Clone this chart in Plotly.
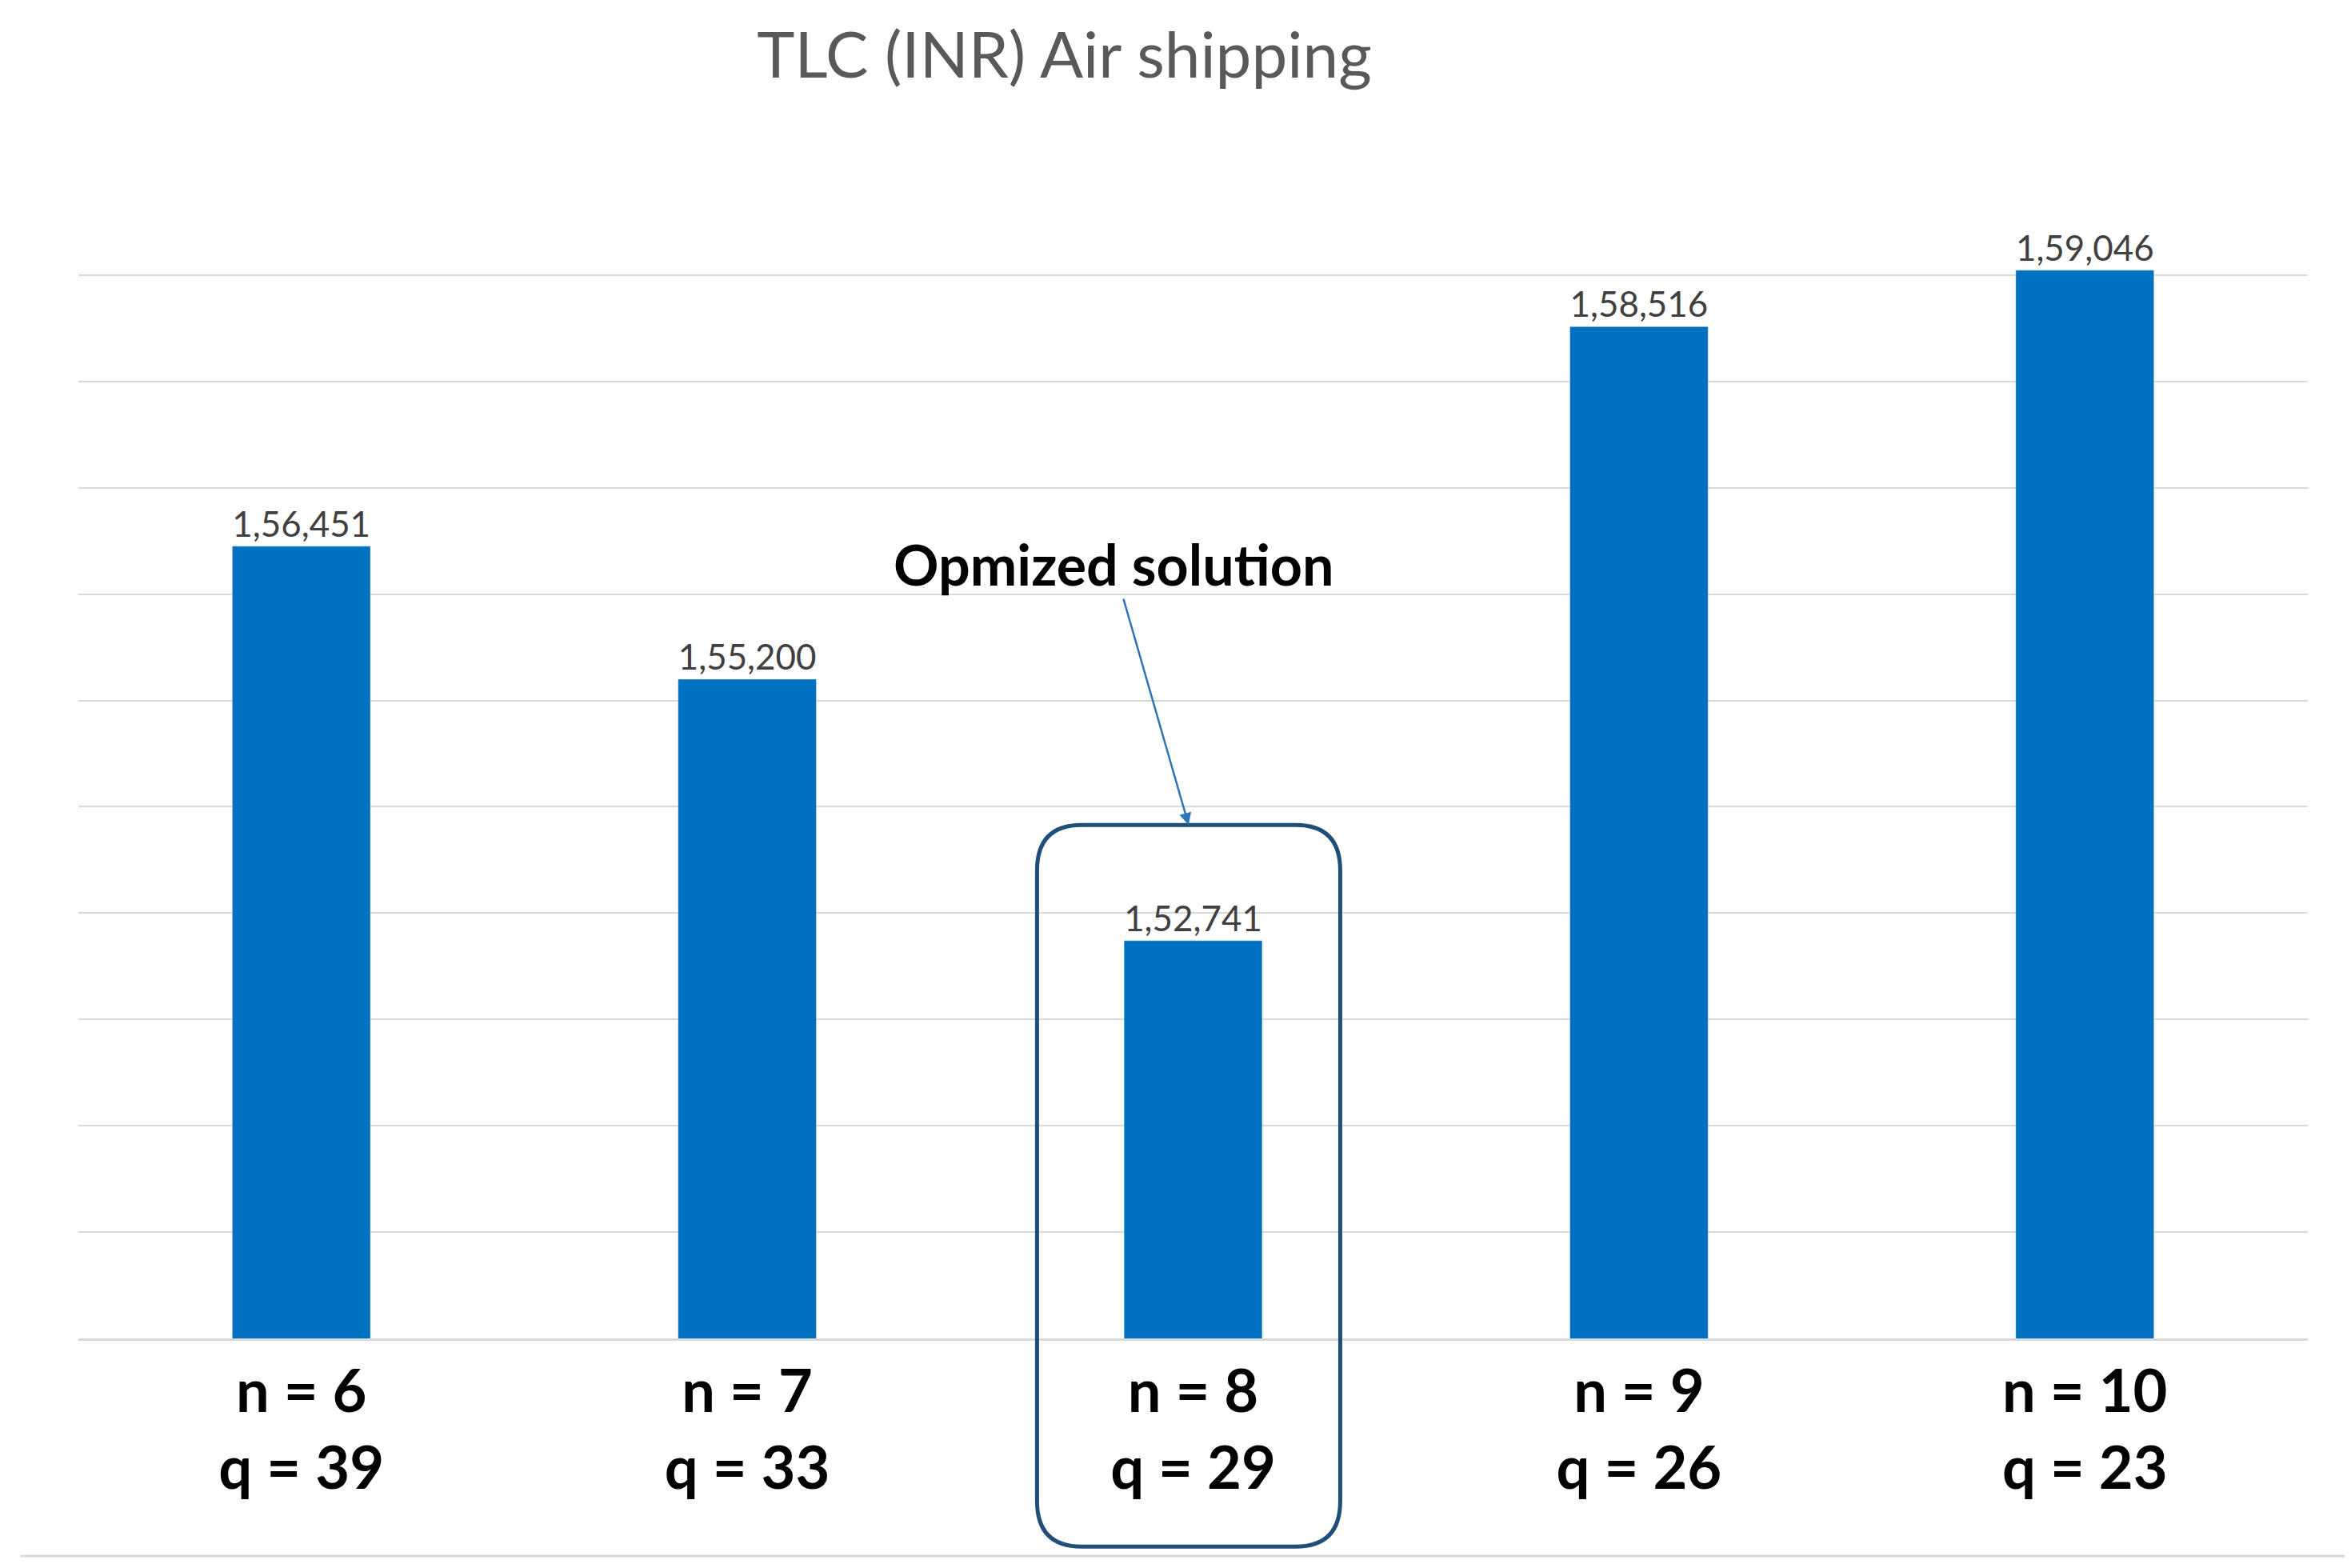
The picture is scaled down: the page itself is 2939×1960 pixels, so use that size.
import plotly.graph_objects as go

n_values = [6, 7, 8, 9, 10]
q_values = [39, 33, 29, 26, 23]
tlc_values = [156451, 155200, 152741, 158516, 159046]


def indian_format(v: int) -> str:
    """Format a number with Indian digit grouping."""
    s = str(v)
    last3, rest = s[-3:], s[:-3]
    groups = []
    while len(rest) > 2:
        groups.insert(0, rest[-2:])
        rest = rest[:-2]
    if rest:
        groups.insert(0, rest)
    return ",".join(groups + [last3])


x_pos = list(range(len(n_values)))
tick_text = [f"<b>n = {n}<br>q = {q}</b>" for n, q in zip(n_values, q_values)]

fig = go.Figure()
fig.add_trace(go.Bar(x=x_pos, y=tlc_values, width=0.31, marker_color="#0070C0",
                     text=[indian_format(v) for v in tlc_values], textposition="outside",
                     textfont={"size": 48, "color": "#404040"}, cliponaxis=False))

# rounded box around the optimal solution
x0, x1, y0, y1 = 1.65, 2.33, -0.178, 0.439
rx, ry = 0.1, 0.039
path = (f"M {x0 + rx},{y1} L {x1 - rx},{y1} Q {x1},{y1} {x1},{y1 - ry} "
        f"L {x1},{y0 + ry} Q {x1},{y0} {x1 - rx},{y0} L {x0 + rx},{y0} "
        f"Q {x0},{y0} {x0},{y0 + ry} L {x0},{y1 - ry} Q {x0},{y1} {x0 + rx},{y1} Z")
fig.add_shape(type="path", path=path, xref="x", yref="paper", line={"color": "#1F4E79", "width": 5})
fig.add_shape(type="line", xref="paper", yref="paper", x0=-0.026, x1=1.02, y0=-0.186, y1=-0.186,
              line={"color": "#D9D9D9", "width": 3})

fig.add_annotation(x=1.99, y=0.439, xref="x", yref="paper", text="<b>Opmized solution</b>",
                   ax=-94, ay=-326, showarrow=True, arrowhead=2, arrowsize=1.2, arrowwidth=2.5,
                   arrowcolor="#2E75B6", font={"size": 70, "color": "black"})

fig.update_layout(
    width=2939, height=1960, plot_bgcolor="white", paper_bgcolor="white",
    font={"family": "Lato"},
    title={"text": "TLC (INR) Air shipping", "x": 0.45, "xanchor": "center", "y": 0.983, "yanchor": "top",
           "font": {"size": 80, "color": "#595959"}},
    margin={"l": 90, "r": 62, "t": 203, "b": 295},
    showlegend=False, bargap=0.69,
)
fig.update_xaxes(tickvals=x_pos, ticktext=tick_text, tickfont={"size": 74, "color": "black"},
                 range=[-0.5, 4.5], showline=True, linecolor="#D9D9D9", linewidth=3, ticks="")
fig.update_yaxes(range=[149000, 160000], dtick=1000, showticklabels=False, gridcolor="#D9D9D9",
                 gridwidth=2, zeroline=False)

fig.write_html("out.html")
